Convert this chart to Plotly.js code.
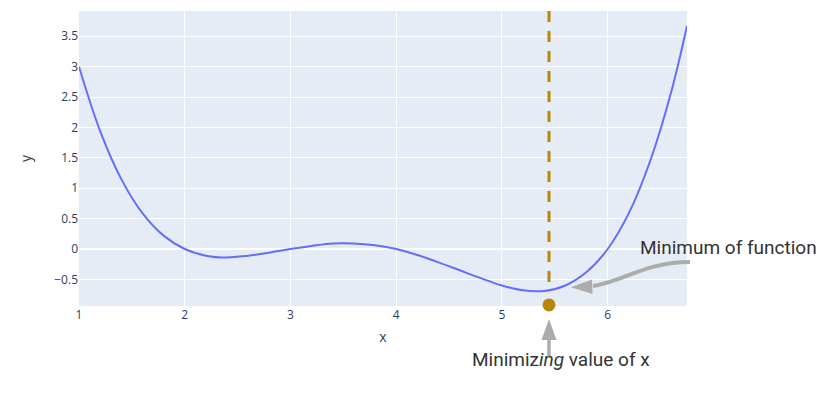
<!DOCTYPE html>
<html>
<head>
<meta charset="utf-8">
<script src="https://cdn.plot.ly/plotly-3.0.1.min.js"></script>
<style>html,body{margin:0;padding:0;background:#fff;}#chart{width:826px;height:393px;}</style>
</head>
<body>
<div id="chart"></div>
<script>
// Curve readings
const xValues = [1.0,1.2,1.4,1.6,1.8,2.0,2.2,2.4,2.6,2.8,3.0,3.2,3.4,3.6,3.8,4.0,4.2,4.4,4.6,4.8,5.0,5.2,5.4,5.6,5.8,6.0,6.2,6.4,6.6,6.75];
const yValues = [3.0,1.94,1.15,0.59,0.22,0.0,-0.11,-0.14,-0.11,-0.06,0.0,0.05,0.09,0.09,0.06,0.0,-0.10,-0.22,-0.35,-0.48,-0.60,-0.68,-0.69,-0.60,-0.38,0.0,0.59,1.44,2.58,3.67];
// Minimizer
const minX = [5.445];
const minMarkerY = [-0.92];
const minCurveY = -0.69;
const yRange = [-0.938, 3.916];
const xRange = [1, 6.75];

const gray = 'rgb(172,172,172)';
const gold = 'darkgoldenrod';

const traces = [
  {x: xValues, y: yValues, type: 'scatter', mode: 'lines', line: {color: '#636efa', width: 2, shape: 'spline'}, hoverinfo: 'skip'},
  {x: minX, y: minMarkerY, type: 'scatter', mode: 'markers', marker: {color: gold, size: 13}, cliponaxis: false}
];

const layout = {
  width: 826, height: 393,
  margin: {l: 79, r: 139, t: 11, b: 87},
  showlegend: false,
  paper_bgcolor: '#fff',
  plot_bgcolor: '#E5ECF6',
  font: {family: '"Open Sans", verdana, arial, sans-serif', size: 12, color: '#2a3f5f'},
  xaxis: {range: xRange, dtick: 1, gridcolor: 'white', zeroline: false, ticks: '', automargin: true, title: {text: 'x', font: {size: 14}, standoff: 10}},
  yaxis: {range: yRange, dtick: 0.5, gridcolor: 'white', zerolinecolor: 'white', zerolinewidth: 2, ticks: '', automargin: true, title: {text: 'y', font: {size: 14}, standoff: 19}},
  shapes: [
    {type: 'line', xref: 'x', yref: 'y', x0: minX[0], x1: minX[0], y0: yRange[1], y1: minCurveY, line: {color: gold, width: 3, dash: '11px,9px'}},
    {type: 'path', xref: 'paper', yref: 'paper', path: 'M 1.005,0.149 C 0.931,0.149 0.898,0.085 0.8454,0.0678', line: {color: gray, width: 4}},
    {type: 'path', xref: 'paper', yref: 'paper', path: 'M 0.8090,0.0634 L 0.8438,0.0898 L 0.8446,0.0407 Z', fillcolor: gray, line: {color: gray, width: 0}},
    {type: 'line', xref: 'paper', yref: 'paper', x0: 0.773, x1: 0.773, y0: -0.1729, y1: -0.1085, line: {color: gray, width: 3.5}},
    {type: 'path', xref: 'paper', yref: 'paper', path: 'M 0.773,-0.0441 L 0.7607,-0.1153 L 0.7854,-0.1153 Z', fillcolor: gray, line: {color: gray, width: 0}}
  ],
  annotations: [
    {text: 'Minimum of function', xref: 'paper', yref: 'paper', x: 1.069, y: 0.198, xanchor: 'center', yanchor: 'middle', showarrow: false, font: {family: 'Roboto', size: 19, color: '#333'}},
    {text: 'Minimiz<i>ing</i> value of x', xref: 'paper', yref: 'paper', x: 0.793, y: -0.181, xanchor: 'center', yanchor: 'middle', showarrow: false, font: {family: 'Roboto', size: 19, color: '#333'}}
  ]
};

Plotly.newPlot('chart', traces, layout, {displayModeBar: false, staticPlot: true});
</script>
</body>
</html>
